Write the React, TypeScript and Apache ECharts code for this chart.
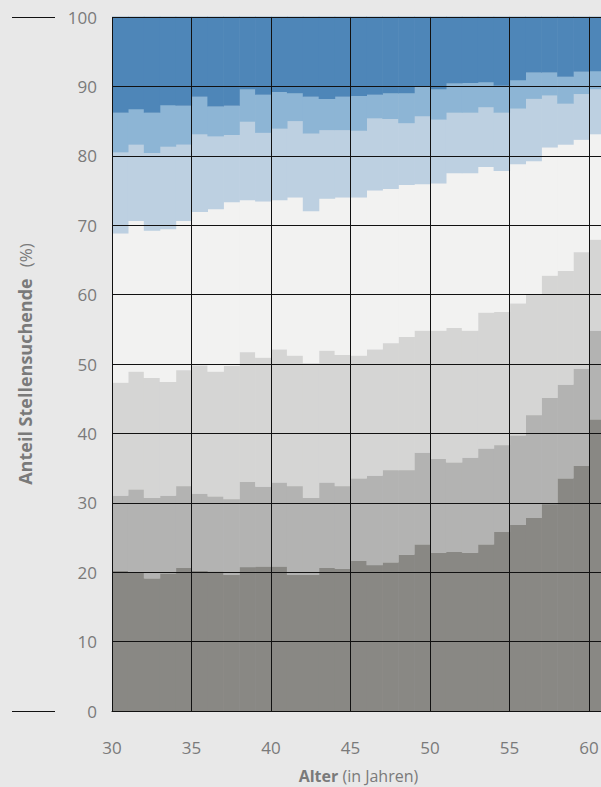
import React, { useEffect, useRef } from "react";
import * as echarts from "echarts";

// Alter (Jahre), jeder Balken deckt [Alter, Alter+1) ab
const ages = [30, 31, 32, 33, 34, 35, 36, 37, 38, 39, 40, 41, 42, 43, 44, 45, 46, 47, 48, 49, 50, 51, 52, 53, 54, 55, 56, 57, 58, 59, 60];

// Anteile je Schicht (von unten nach oben), in %
const layer1 = [20.2, 19.9, 19.1, 19.8, 20.6, 20.2, 20.1, 19.6, 20.7, 20.8, 20.8, 19.6, 19.6, 20.6, 20.5, 21.6, 21.0, 21.4, 22.5, 24.0, 22.8, 22.9, 22.8, 24.0, 25.8, 26.8, 27.8, 29.8, 33.5, 35.3, 42.0];
const layer2 = [10.8, 12.0, 11.6, 11.2, 11.8, 11.1, 10.8, 10.9, 12.3, 11.5, 12.1, 12.8, 11.1, 12.3, 11.9, 11.9, 12.9, 13.3, 12.2, 13.2, 13.5, 12.9, 13.7, 13.8, 12.5, 12.9, 14.8, 15.3, 13.5, 14.0, 12.8];
const layer3 = [16.3, 17.0, 17.3, 16.4, 16.7, 18.5, 18.0, 19.2, 18.7, 18.6, 19.2, 18.8, 19.4, 19.0, 18.9, 17.7, 18.2, 18.3, 19.2, 17.6, 18.5, 19.4, 18.3, 19.6, 19.2, 19.0, 17.4, 17.6, 16.4, 16.8, 13.1];
const layer4 = [21.5, 21.7, 21.2, 22.0, 21.5, 22.1, 23.4, 23.6, 21.9, 22.5, 21.5, 22.8, 21.9, 21.9, 22.7, 22.8, 22.9, 22.2, 21.9, 21.1, 21.2, 22.3, 22.7, 21.0, 20.3, 20.1, 19.2, 18.5, 18.2, 16.2, 15.2];
const layer5 = [11.7, 11.0, 11.2, 11.9, 11.0, 11.2, 10.5, 9.7, 11.3, 9.9, 10.3, 11.0, 11.2, 9.9, 9.7, 9.6, 10.4, 10.1, 8.9, 9.8, 9.2, 8.7, 8.7, 8.6, 8.4, 8.0, 9.0, 7.5, 5.9, 6.6, 6.5];
const layer6 = [5.7, 5.1, 5.8, 6.0, 5.6, 5.4, 4.3, 4.2, 4.7, 5.5, 5.3, 4.0, 5.3, 4.5, 4.8, 5.0, 3.4, 3.7, 4.3, 4.2, 4.4, 4.2, 4.3, 3.6, 3.9, 4.1, 3.8, 3.3, 3.9, 3.2, 2.6];
const layer7 = [13.8, 13.3, 13.8, 12.7, 12.8, 11.5, 12.9, 12.8, 10.4, 11.2, 10.8, 11.0, 11.5, 11.8, 11.5, 11.4, 11.2, 11.0, 11.0, 10.1, 10.4, 9.6, 9.5, 9.4, 9.9, 9.1, 8.0, 8.0, 8.6, 7.9, 7.8];

const layerColors = ["#898884", "#b3b3b2", "#d5d5d4", "#f2f2f1", "#bdd0e1", "#8db5d5", "#4e86b8"];

const yTicks = { min: 0, max: 100, interval: 10 };
const xTicks = { min: 30, max: 61, interval: 5 };

export default function App() {
  const ref = useRef<HTMLDivElement>(null);

  useEffect(() => {
    document.body.style.margin = "0";
    document.body.style.background = "#e8e8e8";
    const chart = echarts.init(ref.current as HTMLDivElement, null, { renderer: "svg" });

    const layers = [layer1, layer2, layer3, layer4, layer5, layer6, layer7];
    const cum = ages.map(() => 0);
    const series = layers.map((vals, k) => {
      const data = ages.map((a, i) => {
        const s = cum[i];
        cum[i] = s + vals[i];
        return [a, s, cum[i]];
      });
      return {
        type: "custom",
        name: "Schicht " + (k + 1),
        z: 1,
        encode: { x: 0, y: [1, 2] },
        data,
        renderItem: (params: any, api: any) => {
          const a = api.value(0);
          const s = api.value(1);
          const e = api.value(2);
          const p0 = api.coord([a, e]);
          const p1 = api.coord([a + 1, s]);
          return {
            type: "rect",
            shape: { x: p0[0], y: p0[1] - 0.3, width: p1[0] - p0[0] + 0.6, height: p1[1] - p0[1] + 0.3 },
            style: { fill: layerColors[k] },
          };
        },
      };
    });

    const font = "'Open Sans', 'Noto Sans', sans-serif";
    const grey = "#7a7a7a";

    chart.setOption({
      animation: false,
      backgroundColor: "#e8e8e8",
      grid: { left: 112, top: 17, width: 492.9, height: 694, outerBoundsMode: "none", containLabel: false },
      xAxis: {
        type: "value",
        min: xTicks.min,
        max: xTicks.max,
        interval: xTicks.interval,
        z: 5,
        axisLine: { show: true, lineStyle: { color: "#111", width: 1 } },
        axisTick: { show: false },
        splitLine: { show: true, lineStyle: { color: "#111", width: 1 } },
        axisLabel: { color: grey, fontSize: 17, fontFamily: font, margin: 28, showMaxLabel: false },
        name: "{b|Alter} {r|(in Jahren)}",
        nameLocation: "middle",
        nameGap: 56,
        nameTextStyle: {
          color: grey,
          fontFamily: font,
          fontSize: 16,
          lineHeight: 18,
          rich: {
            b: { fontWeight: "bold", fontSize: 16, lineHeight: 18, fontFamily: font, color: grey },
            r: { fontWeight: "normal", fontSize: 16, lineHeight: 18, fontFamily: font, color: grey },
          },
        },
      },
      yAxis: {
        type: "value",
        min: yTicks.min,
        max: yTicks.max,
        interval: yTicks.interval,
        z: 5,
        axisLine: { show: false },
        axisTick: { show: false },
        splitLine: { show: true, lineStyle: { color: "#111", width: 1 } },
        axisLabel: { color: grey, fontSize: 17, fontFamily: font, margin: 15 },
        name: "{b|Anteil Stellensuchende}{r|(%)}",
        nameLocation: "middle",
        nameGap: 78,
        nameTextStyle: {
          color: grey,
          fontFamily: font,
          fontSize: 18,
          rich: {
            b: { fontWeight: "bold", fontSize: 18, fontFamily: font, color: grey },
            r: { fontWeight: "normal", fontSize: 17, fontFamily: font, color: grey, padding: [0, 0, 0, 11] },
          },
        },
      },
      graphic: [
        { type: "line", shape: { x1: 12, y1: 17.5, x2: 55, y2: 17.5 }, style: { stroke: "#111", lineWidth: 1 } },
        { type: "line", shape: { x1: 12, y1: 711.5, x2: 55, y2: 711.5 }, style: { stroke: "#111", lineWidth: 1 } },
      ],
      series,
    });

    return () => chart.dispose();
  }, []);

  return <div ref={ref} style={{ width: 601, height: 787 }} />;
}
